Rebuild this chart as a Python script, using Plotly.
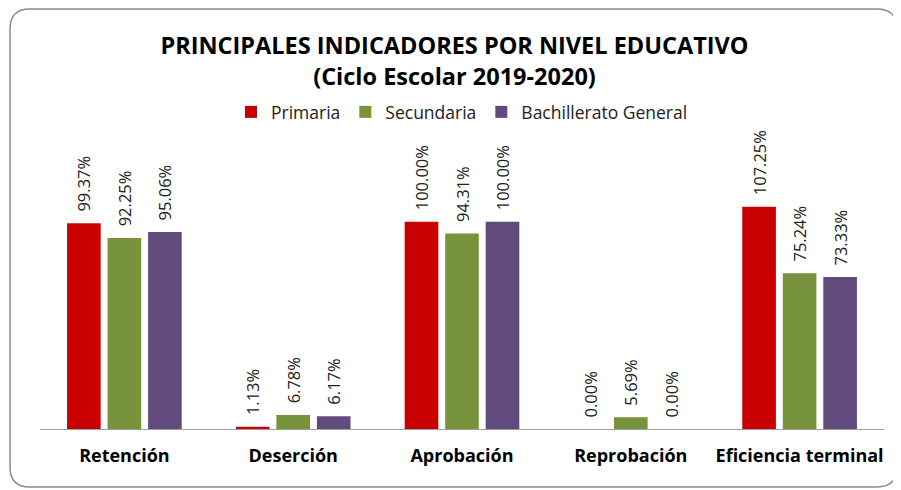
import plotly.graph_objects as go

categories = ["Retención", "Deserción", "Aprobación", "Reprobación", "Eficiencia terminal"]
primaria = [99.37, 1.13, 100.00, 0.00, 107.25]
secundaria = [92.25, 6.78, 94.31, 5.69, 75.24]
bachillerato = [95.06, 6.17, 100.00, 0.00, 73.33]
series_names = ["Primaria", "Secundaria", "Bachillerato General"]
colors = ["#C80000", "#77933C", "#614A7C"]

# page body has an 8px margin, so the figure is 8px smaller and shifted
OFF = 8
W, H = 901 - OFF, 490 - OFF
ML, MR, MT, MB = 40 - OFF, 17, 140 - OFF, 61

FONT = "Open Sans, sans-serif"

fig = go.Figure()
for name, vals, c in zip(series_names, [primaria, secundaria, bachillerato], colors):
    fig.add_trace(go.Bar(
        x=categories, y=vals, name=name,
        marker=dict(color=c, line=dict(width=0)),
        texttemplate="\u00a0\u00a0%{y:.2f}%", textposition="outside", textangle=-90,
        constraintext="none",
        textfont=dict(family=FONT, size=16.5, color="#222222"),
        cliponaxis=False,
    ))

# rounded border drawn in paper coordinates, computed from page pixels
pw, ph = W - ML - MR, H - MT - MB
def px(x): return (x - OFF - ML) / pw
def py(y): return (H - MB - (y - OFF)) / ph
x0, x1, y0, y1, r = 10, 897, 9, 487, 20
path = (f"M {px(x0 + r)},{py(y0)} L {px(x1 - r)},{py(y0)} Q {px(x1)},{py(y0)} {px(x1)},{py(y0 + r)} "
        f"L {px(x1)},{py(y1 - r)} Q {px(x1)},{py(y1)} {px(x1 - r)},{py(y1)} "
        f"L {px(x0 + r)},{py(y1)} Q {px(x0)},{py(y1)} {px(x0)},{py(y1 - r)} "
        f"L {px(x0)},{py(y0 + r)} Q {px(x0)},{py(y0)} {px(x0 + r)},{py(y0)} Z")

fig.update_layout(
    width=W, height=H,
    margin=dict(l=ML, r=MR, t=MT, b=MB),
    paper_bgcolor="white", plot_bgcolor="white",
    barmode="group", bargap=0.28, bargroupgap=0.17,
    title=dict(text="PRINCIPALES INDICADORES POR NIVEL EDUCATIVO<br>(Ciclo Escolar 2019-2020)",
               x=0.5, xanchor="center", y=1 - (54 - OFF) / H, yanchor="middle",
               font=dict(family=FONT, size=23.5, color="#000000", weight="bold")),
    legend=dict(orientation="h", x=0.5, xanchor="center", y=py(112), yanchor="middle",
                font=dict(family=FONT, size=17.5, color="#222222"),
                itemwidth=30, traceorder="normal"),
    xaxis=dict(showline=True, linecolor="#A0A0A0", linewidth=1, ticks="",
               ticklabelstandoff=10,
               tickfont=dict(family=FONT, size=18, color="#000000", weight="bold")),
    yaxis=dict(visible=False, range=[0, 139.5]),
    shapes=[dict(type="path", path=path, xref="paper", yref="paper",
                 line=dict(color="#8C8C8C", width=1.5), fillcolor="rgba(0,0,0,0)", layer="below")],
)

fig.write_html("out.html")
